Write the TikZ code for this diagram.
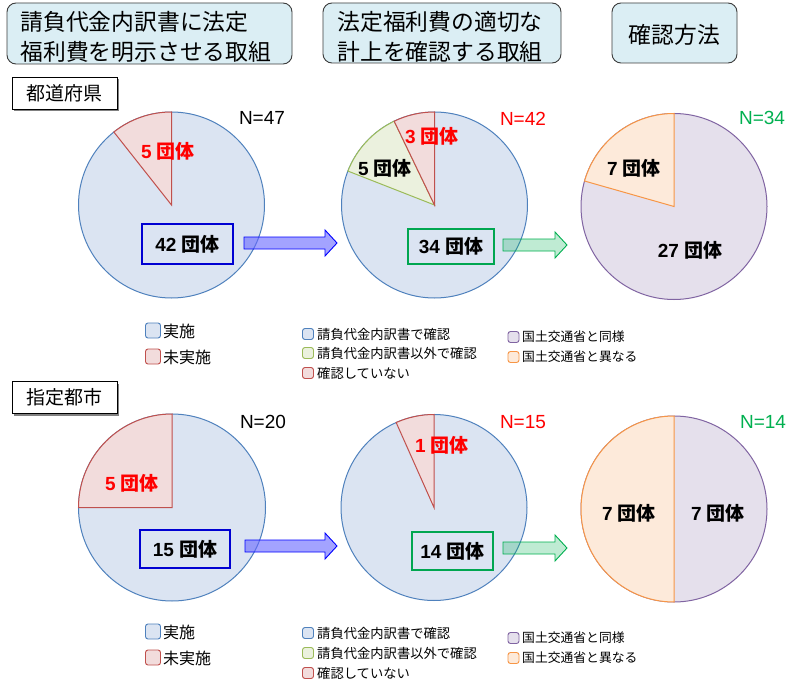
\documentclass[tikz,border=0pt]{standalone}
\usepackage{fontspec}
\setmainfont{Liberation Sans}
\newfontfamily\jp{Noto Sans CJK JP}
\usetikzlibrary{shadows}
\definecolor{bluefill}{RGB}{219,228,242}
\definecolor{blueline}{RGB}{79,129,189}
\definecolor{redfill}{RGB}{242,220,220}
\definecolor{redline}{RGB}{192,80,77}
\definecolor{greenfill}{RGB}{235,241,222}
\definecolor{greenline}{RGB}{155,187,89}
\definecolor{purplefill}{RGB}{229,224,236}
\definecolor{purpleline}{RGB}{128,100,162}
\definecolor{orangefill}{RGB}{253,234,218}
\definecolor{orangeline}{RGB}{247,150,70}
\definecolor{headfill}{RGB}{219,238,244}
\definecolor{headline}{RGB}{60,60,60}
\definecolor{Ngreen}{RGB}{0,176,80}
\definecolor{boxblue}{RGB}{0,0,210}
\definecolor{boxgreen}{RGB}{0,166,80}
\definecolor{arrblue}{RGB}{102,102,255}
\newcommand\dantai{{\jp 団体}}
\newcommand\slicepath[4]{(#1) -- ++(#3:#2) arc[start angle=#3, end angle=#4, radius=#2] -- cycle}
\newcommand\blockarr[3]{\draw[#2] (#1) ++(0,-6) -- ++(#3-12,0) -- ++(0,-7) -- ++(12,13) -- ++(-12,13) -- ++(0,-7) -- ++(-#3+12,0) -- cycle;}
\begin{document}
\begin{tikzpicture}[x=1pt,y=-1pt,
  head/.style={draw=headline, fill=headfill, rounded corners=9pt, line width=0.9pt, inner sep=0pt},
  headtext/.style={font=\jp\fontsize{22.8}{30}\selectfont, align=left, inner sep=0pt},
  region/.style={draw=black, fill=white, line width=0.9pt, minimum width=105pt, minimum height=32pt, inner sep=0pt, font=\jp\fontsize{19}{22}\selectfont, drop shadow={shadow xshift=2pt, shadow yshift=-2pt, opacity=0.7, fill=black!70}},
  count/.style={font=\bfseries\fontsize{19}{22}\selectfont, inner sep=0pt},
  nlab/.style={font=\fontsize{19}{22}\selectfont, inner sep=0pt},
  cbox/.style={line width=2pt, inner sep=0pt, font=\bfseries\fontsize{19}{22}\selectfont},
  pieline/.style={line width=1pt},
  lg/.style={rounded corners=2.5pt, line width=0.9pt},
  lgtext/.style={anchor=west, inner sep=0pt},
  barrow/.style={draw=blue, line width=0.9pt, fill=arrblue, fill opacity=0.6},
  garrow/.style={draw=Ngreen, line width=0.9pt, fill=Ngreen, fill opacity=0.25}]
\useasboundingbox (0,0) rectangle (798,690);
\fill[white] (0,0) rectangle (798,690);

% headers
\node[head, minimum width=285pt, minimum height=61pt] (h1) at (149.5,33.5) {};
\node[headtext] (h1t) at (146,37) {請負代金内訳書に法定\\福利費を明示させる取組};
\node[head, minimum width=238pt, minimum height=60pt] (h2) at (442,33) {};
\node[headtext] (h2t) at (440,37) {法定福利費の適切な\\計上を確認する取組};
\node[head, minimum width=125pt, minimum height=60pt] (h3) at (674.5,33) {};
\node[headtext] (h3t) at (674.5,35) {確認方法};

% region labels
\node[region] (r1) at (64.5,93) {都道府県};
\node[region] (r2) at (64.5,397.5) {指定都市};

%================ Row 1 ================
\coordinate (c11) at (171.5,205);
\coordinate (c12) at (434.5,205);
\coordinate (c13) at (674,206.5);
% pie 1
\filldraw[pieline, fill=bluefill, draw=blueline] (c11) circle[radius=93];
\filldraw[pieline, fill=redfill, draw=redline] \slicepath{c11}{93}{-90}{-128.3};
% pie 2
\filldraw[pieline, fill=bluefill, draw=blueline] (c12) circle[radius=93];
\filldraw[pieline, fill=greenfill, draw=greenline] \slicepath{c12}{93}{-115.7}{-158.6};
\filldraw[pieline, fill=redfill, draw=redline] \slicepath{c12}{93}{-90}{-115.7};
% pie 3
\filldraw[pieline, fill=purplefill, draw=purpleline] (c13) circle[radius=93];
\filldraw[pieline, fill=orangefill, draw=orangeline] \slicepath{c13}{93}{-90}{-164.1};

\node[count, text=red] (t11a) at (168,151) {5 \dantai};
\node[nlab] (n11) at (262,118) {N=47};
\node[count, text=red] (t12a) at (432,136) {3 \dantai};
\node[count] (t12b) at (385,168) {5 \dantai};
\node[nlab, text=red] (n12) at (523,119) {N=42};
\node[count] (t13a) at (634,168) {7 \dantai};
\node[count] (t13b) at (690,250) {27 \dantai};
\node[nlab, text=Ngreen] (n13) at (762,118) {N=34};

\node[cbox, draw=boxblue, minimum width=91pt, minimum height=40pt] (b11) at (187.5,244) {42 \dantai};
\node[cbox, draw=boxgreen, minimum width=86pt, minimum height=35pt] (b12) at (451,246.5) {34 \dantai};
\coordinate (a11) at (244,243);
\coordinate (a12) at (503,245);
\blockarr{a11}{barrow}{93}
\blockarr{a12}{garrow}{64}

% legends row 1
\filldraw[lg, fill=bluefill, draw=blueline] (145.5,323) rectangle (160.5,338);
\node[lgtext, font=\jp\fontsize{16}{18}\selectfont] (l11) at (163,331) {実施};
\filldraw[lg, fill=redfill, draw=redline] (145.5,349) rectangle (160.5,364);
\node[lgtext, font=\jp\fontsize{16}{18}\selectfont] (l12) at (163,357) {未実施};

\filldraw[lg, fill=bluefill, draw=blueline] (302.5,328.5) rectangle (313.5,339.5);
\node[lgtext, font=\jp\fontsize{13.3}{15}\selectfont] (l21) at (317,334) {請負代金内訳書で確認};
\filldraw[lg, fill=greenfill, draw=greenline] (302.5,347.5) rectangle (313.5,358.5);
\node[lgtext, font=\jp\fontsize{13.3}{15}\selectfont] (l22) at (317,353) {請負代金内訳書以外で確認};
\filldraw[lg, fill=redfill, draw=redline] (302.5,367.5) rectangle (313.5,378.5);
\node[lgtext, font=\jp\fontsize{13.3}{15}\selectfont] (l23) at (317,373) {確認していない};

\filldraw[lg, fill=purplefill, draw=purpleline] (508,331.5) rectangle (519,342.5);
\node[lgtext, font=\jp\fontsize{12.8}{15}\selectfont] (l31) at (522,337) {国土交通省と同様};
\filldraw[lg, fill=orangefill, draw=orangeline] (508,351.5) rectangle (519,362.5);
\node[lgtext, font=\jp\fontsize{12.8}{15}\selectfont] (l32) at (522,357) {国土交通省と異なる};

%================ Row 2 ================
\coordinate (c21) at (172,507.5);
\coordinate (c22) at (434,507.5);
\coordinate (c23) at (674,509);
\filldraw[pieline, fill=bluefill, draw=blueline] (c21) circle[radius=93.5];
\filldraw[pieline, fill=redfill, draw=redline] \slicepath{c21}{93.5}{-90}{-180};
\filldraw[pieline, fill=bluefill, draw=blueline] (c22) circle[radius=93];
\filldraw[pieline, fill=redfill, draw=redline] \slicepath{c22}{93}{-90}{-114};
\filldraw[pieline, fill=purplefill, draw=purpleline] (c23) circle[radius=93];
\filldraw[pieline, fill=orangefill, draw=orangeline] \slicepath{c23}{93}{-90}{-270};

\node[count, text=red] (t21a) at (132,483) {5 \dantai};
\node[nlab] (n21) at (263,422) {N=20};
\node[count, text=red] (t22a) at (442,445) {1 \dantai};
\node[nlab, text=red] (n22) at (523,422) {N=15};
\node[count] (t23a) at (629,513) {7 \dantai};
\node[count] (t23b) at (718,513) {7 \dantai};
\node[nlab, text=Ngreen] (n23) at (763,422) {N=14};

\node[cbox, draw=boxblue, minimum width=90pt, minimum height=38pt] (b21) at (185,549) {15 \dantai};
\node[cbox, draw=boxgreen, minimum width=81pt, minimum height=38pt] (b22) at (452.5,551) {14 \dantai};
\coordinate (a21) at (245,546);
\coordinate (a22) at (503,548);
\blockarr{a21}{barrow}{92}
\blockarr{a22}{garrow}{64}

% legends row 2
\filldraw[lg, fill=bluefill, draw=blueline] (145.5,624) rectangle (160.5,639);
\node[lgtext, font=\jp\fontsize{16}{18}\selectfont] (m11) at (163,632) {実施};
\filldraw[lg, fill=redfill, draw=redline] (145.5,650) rectangle (160.5,665);
\node[lgtext, font=\jp\fontsize{16}{18}\selectfont] (m12) at (163,658) {未実施};

\filldraw[lg, fill=bluefill, draw=blueline] (302.5,627.5) rectangle (313.5,638.5);
\node[lgtext, font=\jp\fontsize{13.3}{15}\selectfont] (m21) at (317,633) {請負代金内訳書で確認};
\filldraw[lg, fill=greenfill, draw=greenline] (302.5,647.5) rectangle (313.5,658.5);
\node[lgtext, font=\jp\fontsize{13.3}{15}\selectfont] (m22) at (317,653) {請負代金内訳書以外で確認};
\filldraw[lg, fill=redfill, draw=redline] (302.5,667.5) rectangle (313.5,678.5);
\node[lgtext, font=\jp\fontsize{13.3}{15}\selectfont] (m23) at (317,673) {確認していない};

\filldraw[lg, fill=purplefill, draw=purpleline] (508,632.5) rectangle (519,643.5);
\node[lgtext, font=\jp\fontsize{12.8}{15}\selectfont] (m31) at (522,638) {国土交通省と同様};
\filldraw[lg, fill=orangefill, draw=orangeline] (508,652.5) rectangle (519,663.5);
\node[lgtext, font=\jp\fontsize{12.8}{15}\selectfont] (m32) at (522,658) {国土交通省と異なる};
\end{tikzpicture}
\end{document}
